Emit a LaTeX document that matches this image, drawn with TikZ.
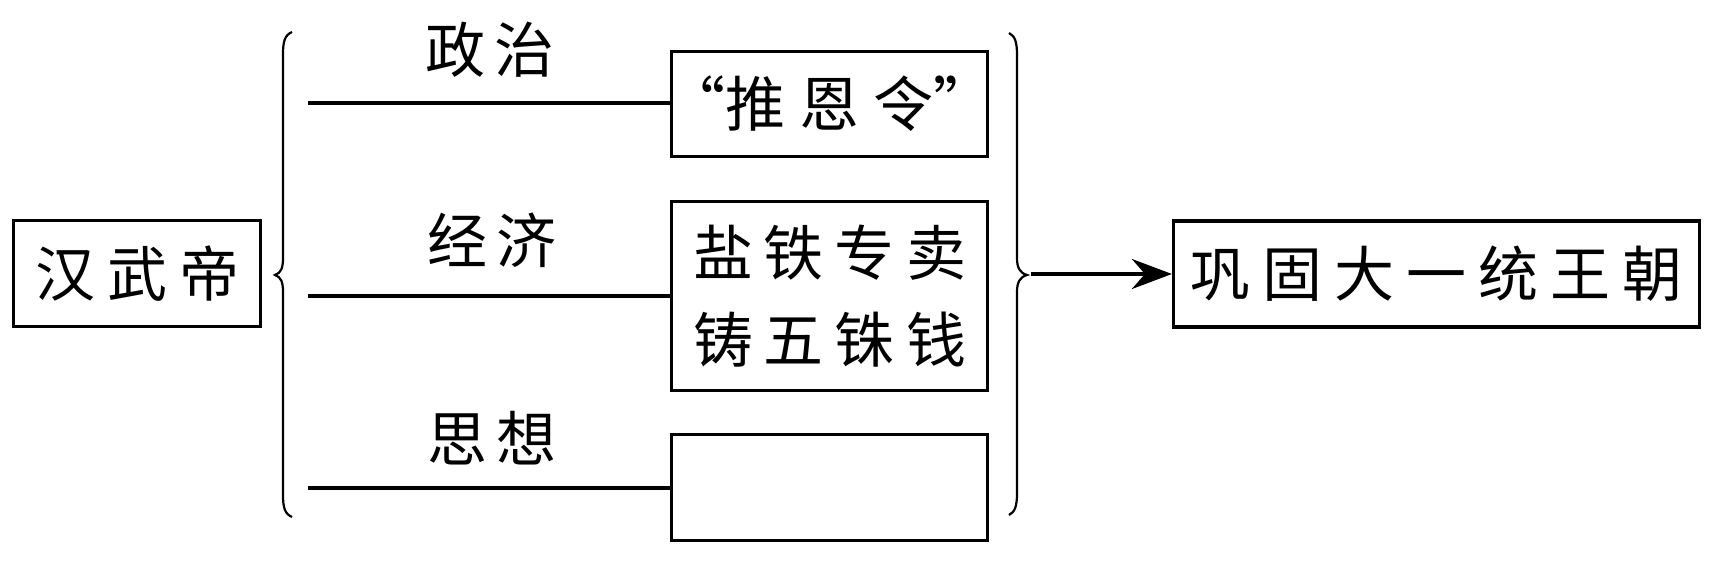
\documentclass[tikz,border=0pt]{standalone}
\usepackage{fontspec}
\newfontfamily\cjk{Noto Sans CJK SC}
\usetikzlibrary{arrows.meta}
\newcommand{\ks}{\hspace{12pt}}
\tikzset{
  box/.style={draw, line width=3.2pt, inner sep=0pt, font=\cjk\fontsize{60}{87}\selectfont, align=center},
  lbl/.style={inner sep=0pt, font=\cjk\fontsize{60}{66}\selectfont},
  link/.style={line width=3.2pt},
  brace/.style={line width=2.2pt},
  arr/.style={line width=3.5pt, -{Stealth[length=40pt,width=30pt,inset=13pt]}}
}
\begin{document}
\begin{tikzpicture}[x=1pt,y=-1pt]
\useasboundingbox (0,0) rectangle (1717,564);
% left node
\node[box, minimum width=247, minimum height=106] (emp) at (137,273.5) {汉\ks 武\ks 帝};
% left brace
\draw[brace] (292,32) .. controls (285,35) and (283,41) .. (283,54) -- (283,258)
  .. controls (283,268) and (281,273) .. (275,275)
  .. controls (281,277) and (283,282) .. (283,292) -- (283,495)
  .. controls (283,508) and (285,514) .. (292,517);
% right boxes
\node[box, minimum width=316, minimum height=105] (b1) at (829.5,104) {\makebox[280pt]{“推\hspace{14pt}恩\hspace{14pt}令”}};
\node[box, minimum width=316, minimum height=189] (b2) at (829.5,296) {盐\hspace{11pt}铁\hspace{11pt}专\hspace{11pt}卖\\铸\hspace{11pt}五\hspace{11pt}铢\hspace{11pt}钱};
\node[box, minimum width=316, minimum height=106] (b3) at (829.5,487.5) {};
% labels
\node[lbl] (t1) at (490,50) {政\hspace{10pt}治};
\node[lbl] (t2) at (492,240) {经\hspace{10pt}济};
\node[lbl] (t3) at (492,438) {思\hspace{10pt}想};
% links
\coordinate (l1) at (308,103);
\coordinate (l2) at (308,296);
\coordinate (l3) at (308,488);
\draw[link] (l1) -- (l1 -| b1.west);
\draw[link] (l2) -- (l2 -| b2.west);
\draw[link] (l3) -- (l3 -| b3.west);
% right brace
\draw[brace] (1009,33) .. controls (1015,36) and (1017,42) .. (1017,55) -- (1017,258)
  .. controls (1017,268) and (1020,273) .. (1027,275)
  .. controls (1020,277) and (1017,282) .. (1017,292) -- (1017,493)
  .. controls (1017,506) and (1015,512) .. (1009,515);
\coordinate (tip) at (1031,274);
% result
\node[box, minimum width=526, minimum height=106] (res) at (1436.5,274) {巩\ks 固\ks 大\ks 一\ks 统\ks 王\ks 朝};
\draw[arr] (tip) -- (res.west |- tip);
\end{tikzpicture}
\end{document}
